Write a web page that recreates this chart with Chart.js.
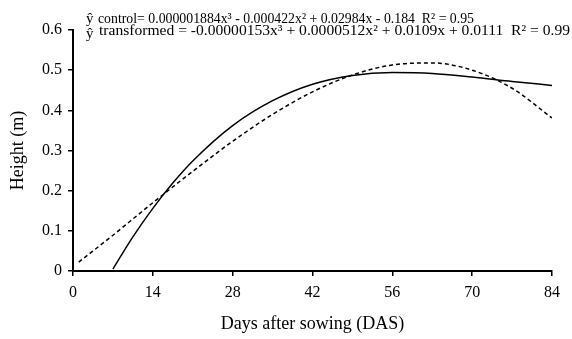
<!DOCTYPE html>
<html>
<head>
<meta charset="utf-8">
<script src="https://cdn.jsdelivr.net/npm/chart.js@4.4.0/dist/chart.umd.min.js"></script>
<style>
  html, body { margin: 0; padding: 0; background: #fff; }
  #wrap { width: 572px; height: 339px; }
</style>
</head>
<body>
<div id="wrap"><canvas id="chart" width="572" height="339"></canvas></div>
<script>
// values
var controlDays = [7, 10.5, 14, 17.5, 21, 28, 35, 42, 49, 56, 63, 70, 77, 84];
var controlHeight = [0.005, 0.085, 0.156, 0.219, 0.274, 0.362, 0.424, 0.465, 0.487, 0.494, 0.492, 0.483, 0.472, 0.462];
var transformedDays = [1, 7, 14, 21, 28, 35, 42, 49, 56, 63, 70, 77, 84];
var transformedHeight = [0.022, 0.089, 0.170, 0.248, 0.323, 0.390, 0.446, 0.488, 0.513, 0.518, 0.500, 0.455, 0.381];
var xTicks = [0, 14, 28, 42, 56, 70, 84];
var yTicks = [0, 0.1, 0.2, 0.3, 0.4, 0.5, 0.6];

var eqControl = "control= 0.000001884x\u00B3 - 0.000422x\u00B2 + 0.02984x - 0.184  R\u00B2 = 0.95";
var eqTransformed = "transformed = -0.00000153x\u00B3 + 0.0000512x\u00B2 + 0.0109x + 0.0111  R\u00B2 = 0.99";

var FONT = "'Liberation Serif', 'Times New Roman', serif";

function toPoints(xs, ys) {
    var pts = [];
    for (var i = 0; i < xs.length; i++) {
        pts.push({x: xs[i], y: ys[i]});
    }
    return pts;
}

// draw a line of text stretched/squeezed to a given width
function fitText(ctx, txt, x, y, w) {
    var m = ctx.measureText(txt).width;
    ctx.save();
    ctx.translate(x, y);
    ctx.scale(w / m, 1);
    ctx.fillText(txt, 0, 0);
    ctx.restore();
}

// equation text drawn above the plot
var equationPlugin = {
    id: 'equations',
    afterDraw: function(chart) {
        var ctx = chart.ctx;
        ctx.save();
        ctx.fillStyle = '#000';
        ctx.textBaseline = 'alphabetic';
        ctx.font = "15px " + FONT;
        ctx.fillText("\u0177", 86, 23);
        fitText(ctx, eqControl, 98, 23, 376);
        ctx.fillText("\u0177", 86, 38);
        fitText(ctx, eqTransformed, 99, 35, 471);
        ctx.restore();
    }
};

new Chart(document.getElementById('chart'), {
    type: 'scatter',
    data: {
        datasets: [{
            label: 'control',
            data: toPoints(controlDays, controlHeight),
            showLine: true,
            borderColor: '#000',
            borderWidth: 1.5,
            pointRadius: 0,
            cubicInterpolationMode: 'monotone'
        }, {
            label: 'transformed',
            data: toPoints(transformedDays, transformedHeight),
            showLine: true,
            borderColor: '#000',
            borderWidth: 1.5,
            borderDash: [4, 3],
            pointRadius: 0,
            cubicInterpolationMode: 'monotone'
        }]
    },
    options: {
        responsive: false,
        animation: false,
        layout: { padding: { top: 30, right: 20, bottom: 0, left: 0 } },
        plugins: {
            legend: { display: false },
            tooltip: { enabled: false }
        },
        scales: {
            x: {
                type: 'linear',
                min: 0,
                max: 84,
                afterBuildTicks: function(scale) {
                    scale.ticks = xTicks.map(function(v) { return {value: v}; });
                },
                afterFit: function(scale) { scale.height = 68; },
                border: { color: '#000', width: 2 },
                grid: { drawOnChartArea: false, drawTicks: true, tickLength: 5, color: '#000', lineWidth: 1.5 },
                ticks: { color: '#000', font: { family: FONT, size: 16 }, padding: 7, maxRotation: 0 },
                title: { display: true, text: 'Days after sowing (DAS)', color: '#000', font: { family: FONT, size: 18 }, padding: { top: 4 } }
            },
            y: {
                min: 0,
                max: 0.6,
                afterBuildTicks: function(scale) {
                    scale.ticks = yTicks.map(function(v) { return {value: v}; });
                },
                afterFit: function(scale) { scale.width = 73; },
                border: { color: '#000', width: 2 },
                grid: { drawOnChartArea: false, drawTicks: true, tickLength: 5, color: '#000', lineWidth: 1.5 },
                ticks: {
                    color: '#000',
                    font: { family: FONT, size: 16 },
                    padding: 6,
                    callback: function(v) { return v === 0 ? '0' : v.toFixed(1); }
                },
                title: { display: true, text: 'Height (m)', color: '#000', font: { family: FONT, size: 18 }, padding: { top: 7, bottom: 0 } }
            }
        }
    },
    plugins: [equationPlugin]
});
</script>
</body>
</html>
